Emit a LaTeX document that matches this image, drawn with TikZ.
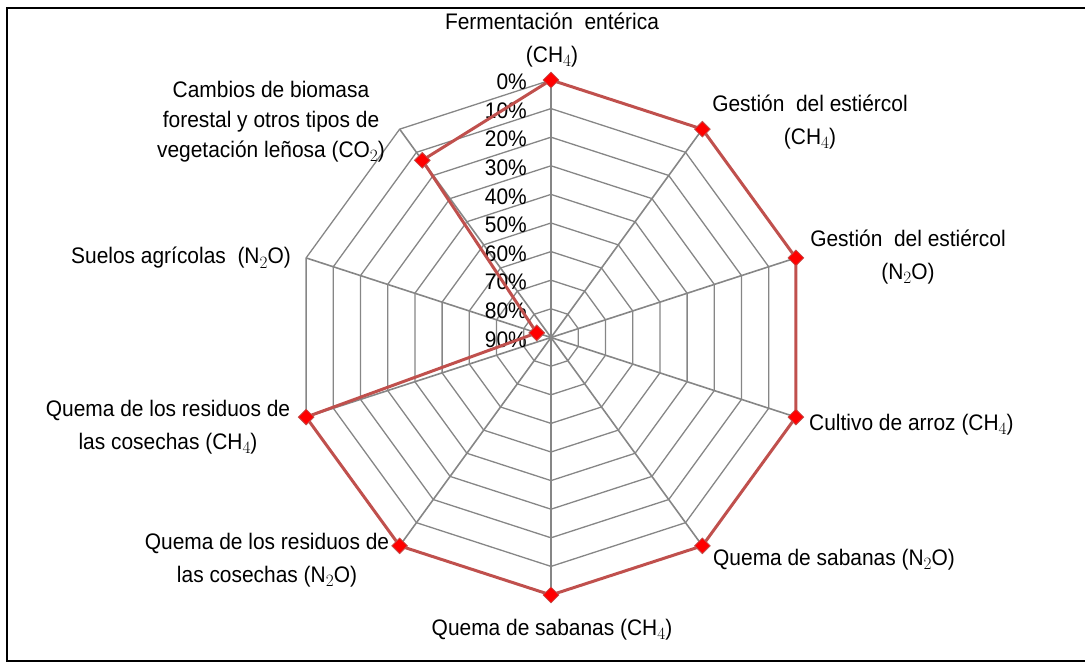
\documentclass[tikz,border=0pt]{standalone}
\usepackage{fontspec}
\setmainfont[FakeStretch=0.93]{Liberation Sans}
\usetikzlibrary{shapes.geometric,calc}
\definecolor{gridgray}{RGB}{134,134,134}
\definecolor{seriescol}{RGB}{192,80,77}
\definecolor{markred}{RGB}{255,0,0}
\newcommand\subdig[1]{\raisebox{-0.35ex}{\fontsize{17}{17}\selectfont$#1$}}
\begin{document}
\begin{tikzpicture}[x=1pt,y=-1pt,
  gridring/.style={draw=gridgray, line width=1.3pt},
  spoke/.style={draw=gridgray, line width=1.6pt},
  series/.style={draw=seriescol, line width=3pt, line join=round},
  marker/.style={diamond, fill=markred, draw=seriescol, line width=0.8pt, minimum width=16pt, minimum height=16pt, inner sep=0pt},
  lab/.style={font=\fontsize{22.5}{30}\selectfont, inner sep=0pt, align=center},
  labsub/.style={font=\fontsize{22.5}{33}\selectfont, inner sep=0pt, align=center},
  ticklab/.style={font=\fontsize{22.5}{22}\selectfont, anchor=east, inner sep=0pt},
  frame/.style={draw=black, line width=2.5pt}]
\useasboundingbox (0,0) rectangle (1085,668);
% frame
\draw[frame] (1090,8) -- (7,8) -- (7,661) -- (1090,661);
% center
\coordinate (O) at (551,337.5);
% rings 0%..80%
\foreach \k in {0,...,8}{
  \pgfmathsetmacro\rr{257.5-28.6*\k}
  \draw[gridring,shift={(551,337.5)}] (-90:\rr) \foreach \i in {1,...,9}{ -- ({36*\i-90}:\rr) } -- cycle;
}
% spokes
\foreach \i in {0,...,9}{
  \coordinate (e\i) at ($(O)+({36*\i-90}:257.5)$);
}
\foreach \i in {0,...,9}{
  \draw[spoke] (O) -- (e\i);
}
% tick labels
\foreach \k in {0,...,9}{
  \pgfmathtruncatemacro\v{10*\k}
  \node[ticklab] (t\k) at (527,{82+28.6*\k}) {\v\%};
}
% data points
\foreach \i/\r in {0/257.5,1/257.5,2/257.5,3/257.5,4/257.5,5/257.5,6/257.5,7/257.5,8/15,9/219}{
  \coordinate (p\i) at ($(O)+({36*\i-90}:\r)$);
}
\draw[series] (p0) -- (p1) -- (p2) -- (p3) -- (p4) -- (p5) -- (p6) -- (p7) -- (p8) -- (p9) -- cycle;
\foreach \i in {0,...,9}{
  \node[marker] (m\i) at (p\i) {};
}
% category labels
\node[labsub] (l0) at (552,40) {Fermentación\ \ entérica\\(CH\subdig{4})};
\node[labsub] (l1) at (810,122) {Gestión\ \ del estiércol\\(CH\subdig{4})};
\node[labsub] (l2) at (908,257) {Gestión\ \ del estiércol\\(N\subdig{2}O)};
\node[lab, anchor=west] (l3) at (809,425) {Cultivo de arroz (CH\subdig{4})};
\node[lab, anchor=west] (l4) at (713,560) {Quema de sabanas (N\subdig{2}O)};
\node[lab] (l5) at (552,630) {Quema de sabanas (CH\subdig{4})};
\node[labsub] (l6) at (267,560) {Quema de los residuos de\\las cosechas (N\subdig{2}O)};
\node[labsub] (l7) at (168,427) {Quema de los residuos de\\las cosechas (CH\subdig{4})};
\node[lab] (l8) at (181,258) {Suelos agrícolas\ \ (N\subdig{2}O)};
\node[lab] (l9) at (271,122) {Cambios de biomasa\\forestal y otros tipos de\\vegetación leñosa (CO\subdig{2})};
\end{tikzpicture}
\end{document}
